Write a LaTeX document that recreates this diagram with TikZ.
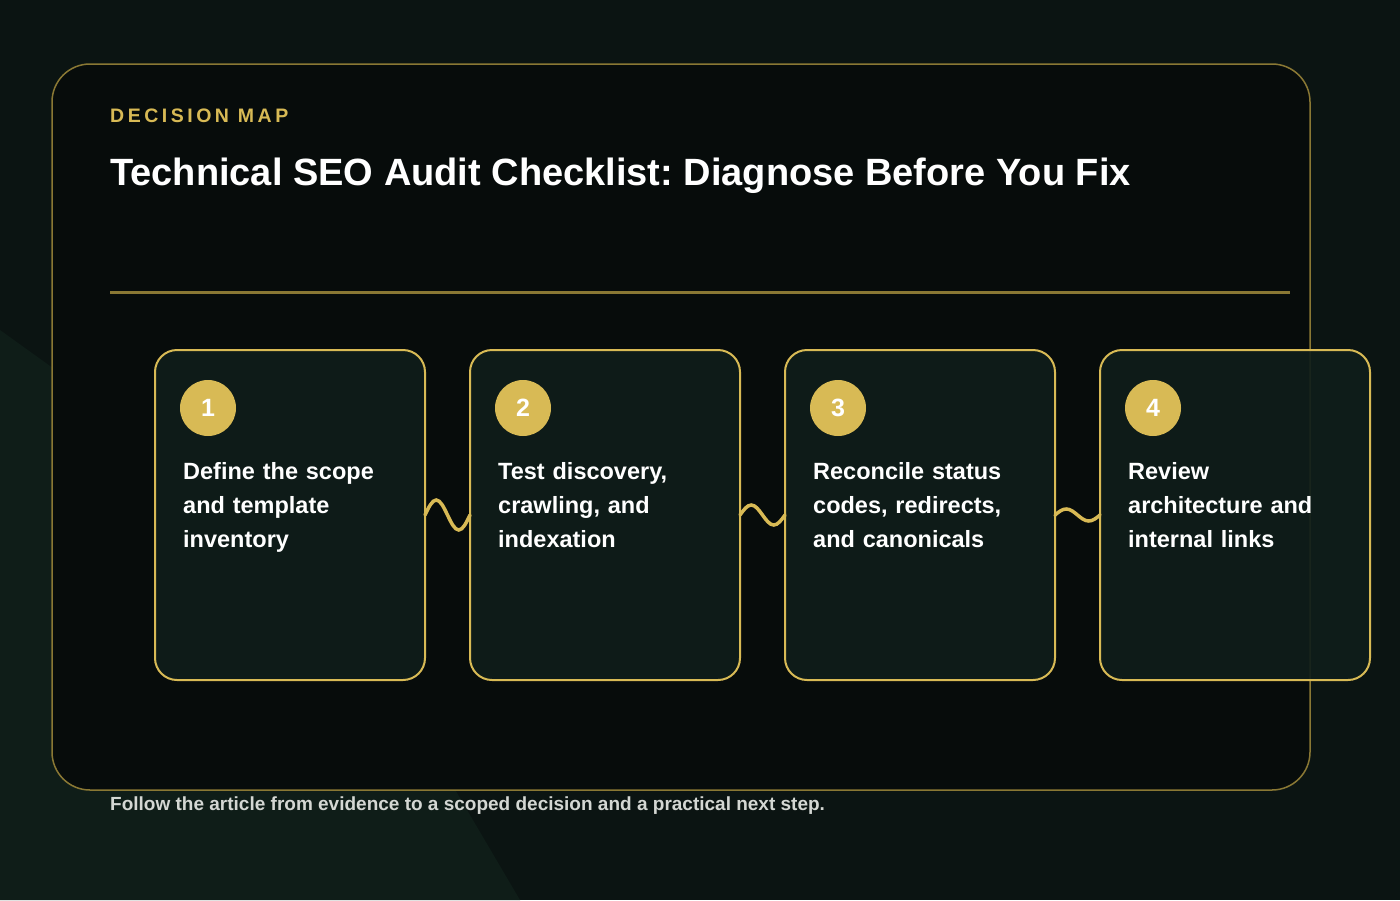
\documentclass[tikz,border=0pt]{standalone}
\usepackage{fontspec}
\setmainfont{Liberation Sans}
\newfontfamily\kickerfont[LetterSpace=18]{Liberation Sans}
\usetikzlibrary{positioning}
\frenchspacing
\definecolor{bgdark}{HTML}{0B1412}
\definecolor{bgglow}{HTML}{0F1D18}
\definecolor{paneldark}{HTML}{070C0B}
\definecolor{carddark}{HTML}{0F1D1A}
\definecolor{gold}{HTML}{D8BA55}
\definecolor{golddim}{HTML}{8A7834}
\definecolor{footgrey}{HTML}{D4D7D3}
\tikzset{
  card/.style={draw=gold, line width=2pt, fill=carddark, fill opacity=0.92,
    rounded corners=22pt, minimum width=270pt, minimum height=330pt,
    inner sep=0pt, outer sep=0pt},
  badge/.style={circle, fill=gold, minimum size=56pt, inner sep=0pt, text=white,
    font=\bfseries\fontsize{25}{30}\selectfont},
  steptext/.style={anchor=north west, text width=250pt, align=left, inner sep=0pt,
    text=white, font=\bfseries\fontsize{23.5}{34}\selectfont},
  wave/.style={draw=gold, line width=3.5pt, line cap=round},
}

\begin{document}
\begin{tikzpicture}[x=1pt, y=-1pt]
\useasboundingbox (0,0) rectangle (1400,900);
% Background
\fill[bgdark] (0,0) rectangle (1400,900);
\fill[bgglow] (0,900) -- (0,330) -- (320,560) -- (520,900) -- cycle;

% Panel
\draw[golddim, line width=1.5pt, fill=paneldark, rounded corners=38pt] (52,64) rectangle (1310,790);

% Heading
\node[anchor=base west, inner sep=0pt, text=gold,
    font=\kickerfont\bfseries\fontsize{19.5}{24}\selectfont
] (kicker) at (110,122) {DECISION MAP};

\node[anchor=base west, inner sep=0pt, text=white,
    font=\bfseries\fontsize{38}{44}\selectfont
] (title) at (110,185) {Technical SEO Audit Checklist: Diagnose Before You Fix};

% Rule
\draw[golddim, line width=3pt] (110,292) -- (1290,292);

% Cards
\node[card] (card1) at (290,515) {};
\node[card, right=45pt of card1] (card2) {};
\node[card, right=45pt of card2] (card3) {};
\node[card, right=45pt of card3] (card4) {};

% Badges and step texts
\foreach \i/\txt in {1/{Define the scope\\and template\\inventory},
    2/{Test discovery,\\crawling, and\\indexation},
    3/{Reconcile status\\codes, redirects,\\and canonicals},
    4/{Review\\architecture and\\internal links}}{
  \node[badge] (badge\i) at ([xshift=53pt,yshift=-58pt]card\i.north west) {\i};
  \node[steptext] (text\i) at ([xshift=28pt,yshift=-112pt]card\i.north west) {\txt};
}

% Wavy links
\foreach \a/\b/\amp in {1/2/15, 2/3/10, 3/4/6}
  \draw[wave] (card\a.east) sin ++(11.25,-\amp) cos ++(11.25,\amp)
    sin ++(11.25,\amp) cos ++(11.25,-\amp) -- (card\b.west);

% Footer
\node[anchor=base west, inner sep=0pt, text=footgrey,
    font=\bfseries\fontsize{19}{22}\selectfont
] (footer) at (110,810) {Follow the article from evidence to a scoped decision and a practical next step.};
\end{tikzpicture}
\end{document}
